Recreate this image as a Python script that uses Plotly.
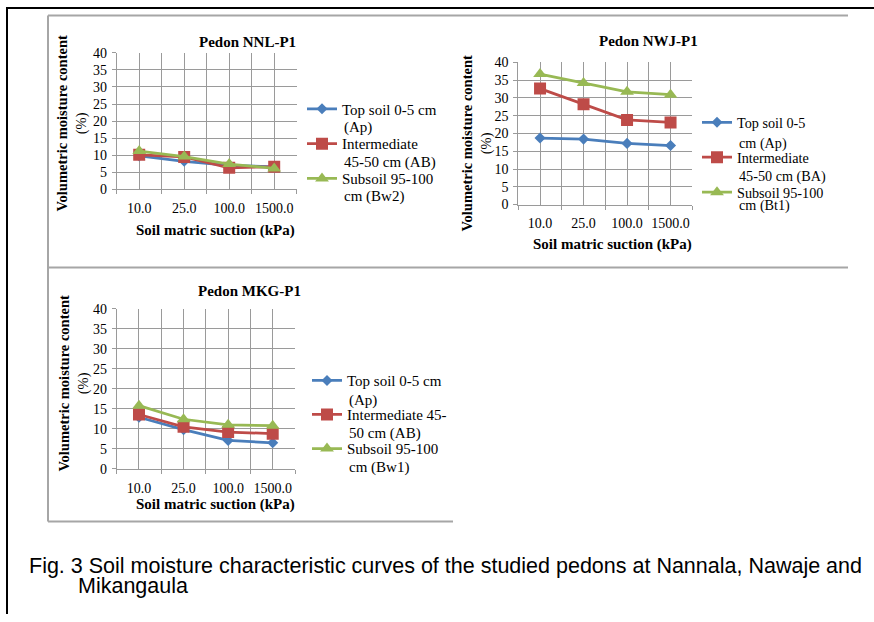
import plotly.graph_objects as go

W, H = 874, 622
# the photographed page maps a page row y to 6.4 + 0.976*y; positions below are
# given where they should appear in the picture and converted back here
Y0, YS = 6.4, 0.976

# ---------------- data ----------------
suction_labels = ["10.0", "25.0", "100.0", "1500.0"]

nnl_names = ["Top soil 0-5 cm", "Intermediate", "Subsoil 95-100"]
nnl_names2 = ["(Ap)", "45-50 cm (AB)", "cm (Bw2)"]
nnl_top = [9.8, 8.2, 7.0, 6.6]
nnl_mid = [10.1, 9.5, 6.3, 6.6]
nnl_sub = [11.2, 9.6, 7.4, 6.1]

nwj_names = ["Top soil 0-5", "Intermediate", "Subsoil 95-100"]
nwj_names2 = ["cm (Ap)", "45-50 cm (BA)", "cm (Bt1)"]
nwj_top = [18.7, 18.4, 17.2, 16.6]
nwj_mid = [32.6, 28.2, 23.8, 23.1]
nwj_sub = [36.7, 34.2, 31.7, 30.9]

mkg_names = ["Top soil 0-5 cm", "Intermediate 45-", "Subsoil 95-100"]
mkg_names2 = ["(Ap)", "50 cm (AB)", "cm (Bw1)"]
mkg_top = [12.9, 9.8, 7.1, 6.5]
mkg_mid = [13.6, 10.5, 9.2, 8.8]
mkg_sub = [15.8, 12.4, 11.0, 10.8]

titles = ["Pedon NNL-P1", "Pedon NWJ-P1", "Pedon MKG-P1"]
y_ticks = [0, 5, 10, 15, 20, 25, 30, 35, 40]

# ---------------- styles ----------------
BLUE, RED, GREEN = "#4A7EBB", "#BE4B48", "#98B954"
GRID = "#9a9a9a"
SERIF = "Liberation Serif"

def px(x):
    return x / W

def page_y(y):
    return (y - Y0) / YS

def py(y):
    return 1 - page_y(y) / H

panels = [
    dict(l=116.7, r=296.7, t=52.3, b=188.7,
         title=(248, 41.5), ytitle=(72, 123), xtitle=(215, 230),
         leg_x=302, leg_first=110, leg_step=34.5, leg_font=15, line2=[127, 162, 196],
         names=nnl_names, names2=nnl_names2, data=[nnl_top, nnl_mid, nnl_sub]),
    dict(l=518.3, r=692.3, t=61.7, b=204.0,
         title=(648, 40.7), ytitle=(477, 142), xtitle=(612, 244),
         leg_x=697, leg_first=124, leg_step=34.0, leg_font=14.2, line2=[143, 176, 205],
         names=nwj_names, names2=nwj_names2, data=[nwj_top, nwj_mid, nwj_sub]),
    dict(l=116.7, r=295.0, t=308.3, b=468.3,
         title=(249, 290), ytitle=(74, 383), xtitle=(215, 504),
         leg_x=307, leg_first=381.7, leg_step=33.7, leg_font=15, line2=[399.5, 433, 466.7],
         names=mkg_names, names2=mkg_names2, data=[mkg_top, mkg_mid, mkg_sub]),
]

styles = [
    dict(color=BLUE, symbol="diamond", size=8.5),
    dict(color=RED, symbol="square", size=12),
    dict(color=GREEN, symbol="triangle-up", size=12),
]

LEG_TOP_OFFSET = 18.5   # legend top edge to the centre of the first entry (page px)

def item_h(font):
    # height plotly gives a one-line legend entry (page px)
    return 23.0 - (15 - font) * 2.1

fig = go.Figure()
x_idx = list(range(len(suction_labels)))
annotations = []
layout = {}

for i, p in enumerate(panels):
    n = i + 1
    xa = "x" if n == 1 else f"x{n}"
    ya = "y" if n == 1 else f"y{n}"
    lg = "legend" if n == 1 else f"legend{n}"
    for k in range(3):
        st = styles[k]
        fig.add_trace(go.Scatter(
            x=x_idx, y=p["data"][k], name=p["names"][k],
            mode="lines+markers", xaxis=xa, yaxis=ya, legend=lg,
            legendgroup=f"g{n}{k}",
            line=dict(color=st["color"], width=2.75),
            marker=dict(color=st["color"], symbol=st["symbol"], size=st["size"]),
        ))
        annotations.append(dict(
            text=p["names2"][k], x=px(p["leg_x"] + 40), y=py(p["line2"][k]),
            xref="paper", yref="paper", showarrow=False, xanchor="left", yanchor="middle",
            font=dict(family=SERIF, size=p["leg_font"], color="#000"),
        ))
    layout[f"xaxis{'' if n == 1 else n}"] = dict(
        domain=[px(p["l"]), px(p["r"])], anchor=ya, range=[-0.5, 3.5],
        tickmode="array", tickvals=x_idx, ticktext=suction_labels,
        showgrid=True, gridcolor=GRID, gridwidth=1,
        showline=True, linecolor=GRID, linewidth=1, mirror=False,
        ticks="", zeroline=False, ticklabelstandoff=6,
        tickfont=dict(family=SERIF, size=14, color="#000"),
        minor=dict(tickmode="linear", tick0=-0.5, dtick=1, showgrid=True,
                   gridcolor=GRID, gridwidth=1, ticks="outside", ticklen=4,
                   tickcolor=GRID),
        fixedrange=True,
    )
    layout[f"yaxis{'' if n == 1 else n}"] = dict(
        domain=[py(p["b"]), py(p["t"])], anchor=xa, range=[0, 40],
        tickmode="array", tickvals=y_ticks,
        showgrid=True, gridcolor=GRID, gridwidth=1,
        showline=True, linecolor=GRID, linewidth=1,
        ticks="outside", ticklen=4, tickcolor=GRID, zeroline=False,
        ticklabelstandoff=2,
        tickfont=dict(family=SERIF, size=14, color="#000"),
        fixedrange=True,
    )
    layout[lg] = dict(
        x=px(p["leg_x"]), y=1 - (page_y(p["leg_first"]) - LEG_TOP_OFFSET) / H,
        xanchor="left", yanchor="top",
        font=dict(family=SERIF, size=p["leg_font"], color="#000"), valign="middle",
        bgcolor="rgba(0,0,0,0)", borderwidth=0, itemwidth=30,
        tracegroupgap=max(0, p["leg_step"] / YS - item_h(p["leg_font"])),
    )
    annotations.append(dict(
        text=f"<b>{titles[i]}</b>", x=px(p["title"][0]), y=py(p["title"][1]),
        xref="paper", yref="paper", showarrow=False, xanchor="center", yanchor="middle",
        font=dict(family=SERIF, size=15, color="#000"),
    ))
    annotations.append(dict(
        text="<b>Volumetric moisture content</b><br>(%)", x=px(p["ytitle"][0]), y=py(p["ytitle"][1]),
        xref="paper", yref="paper", showarrow=False, xanchor="center", yanchor="middle",
        textangle=-90, font=dict(family=SERIF, size=14.5, color="#000"),
    ))
    annotations.append(dict(
        text="<b>Soil matric suction (kPa)</b>", x=px(p["xtitle"][0]), y=py(p["xtitle"][1]),
        xref="paper", yref="paper", showarrow=False, xanchor="center", yanchor="middle",
        font=dict(family=SERIF, size=15, color="#000"),
    ))

annotations.append(dict(
    text="Fig. 3 Soil moisture characteristic curves of the studied pedons at Nannala, Nawaje and",
    x=px(27), y=py(565.5), xref="paper", yref="paper", showarrow=False,
    xanchor="left", yanchor="middle",
    font=dict(family="Liberation Sans", size=21.5, color="#000"),
))
annotations.append(dict(
    text="Mikangaula", x=px(76), y=py(585), xref="paper", yref="paper", showarrow=False,
    xanchor="left", yanchor="middle",
    font=dict(family="Liberation Sans", size=21.5, color="#000"),
))

FRAME = "#a6a6a6"
shapes = [
    dict(type="line", x0=px(7), x1=1, y0=1 - 1 / H, y1=1 - 1 / H, xref="paper", yref="paper",
         line=dict(color="#000", width=2)),
    dict(type="line", x0=px(7), x1=px(7), y0=1, y1=0, xref="paper", yref="paper",
         line=dict(color="#000", width=2)),
    dict(type="line", x0=px(48), x1=px(848), y0=py(15), y1=py(15), xref="paper", yref="paper",
         line=dict(color=FRAME, width=2)),
    dict(type="line", x0=px(48), x1=px(48), y0=py(15), y1=py(521), xref="paper", yref="paper",
         line=dict(color=FRAME, width=2)),
    dict(type="line", x0=px(48), x1=px(848), y0=py(267), y1=py(267), xref="paper", yref="paper",
         line=dict(color=FRAME, width=2)),
    dict(type="line", x0=px(48), x1=px(453), y0=py(521), y1=py(521), xref="paper", yref="paper",
         line=dict(color=FRAME, width=2)),
]

fig.update_layout(
    width=W, height=H, margin=dict(l=0, r=0, t=0, b=0),
    paper_bgcolor="white", plot_bgcolor="white",
    showlegend=True, annotations=annotations, shapes=shapes,
    **layout,
)

fig.write_html("out.html", config={"displayModeBar": False},
               post_script="document.body.style.margin='0';document.body.style.overflow='hidden';")
